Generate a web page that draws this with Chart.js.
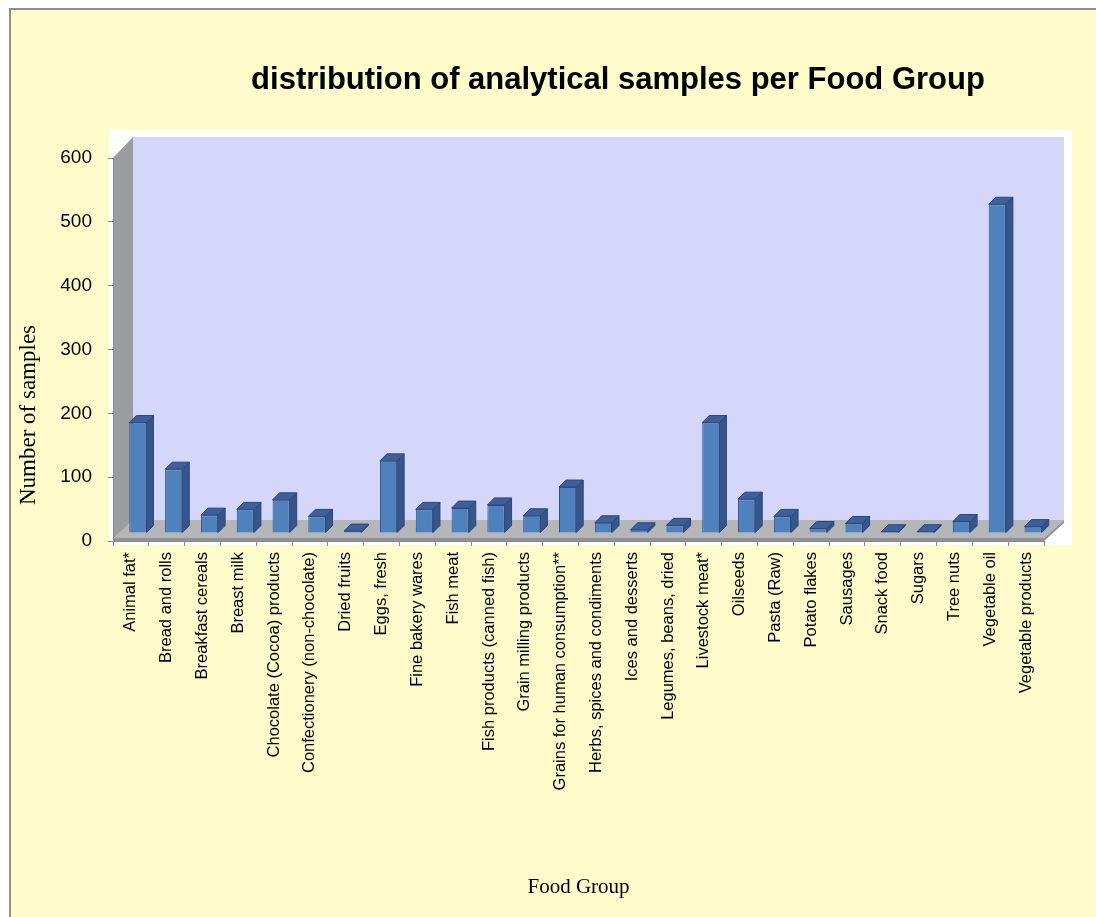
<!DOCTYPE html>
<html>
<head>
<meta charset="utf-8">
<script src="https://cdn.jsdelivr.net/npm/chart.js@4.4.0/dist/chart.umd.min.js"></script>
<style>
  body { margin: 0; background: #fff; }
  #wrap { width: 1096px; height: 917px; position: relative; }
</style>
</head>
<body>
<div id="wrap"><canvas class="js-chart" width="1096" height="917"></canvas></div>
<script>
const ctx = document.querySelector('.js-chart').getContext('2d');

const TITLE = 'distribution of analytical samples per Food Group';
const Y_TITLE = 'Number of samples';
const X_TITLE = 'Food Group';
const foodGroups = [
  'Animal fat*', 'Bread and rolls', 'Breakfast cereals', 'Breast milk',
  'Chocolate (Cocoa) products', 'Confectionery (non-chocolate)', 'Dried fruits',
  'Eggs, fresh', 'Fine bakery wares', 'Fish meat', 'Fish products (canned fish)',
  'Grain milling products', 'Grains for human consumption**', 'Herbs, spices and condiments',
  'Ices and desserts', 'Legumes, beans, dried', 'Livestock meat*', 'Oilseeds',
  'Pasta (Raw)', 'Potato flakes', 'Sausages', 'Snack food', 'Sugars', 'Tree nuts',
  'Vegetable oil', 'Vegetable products'
];
const samples = [173, 100, 28, 37, 52, 26, 3, 113, 37, 39, 44, 27, 72, 16, 5, 12, 173, 53, 26, 7, 15, 2, 2, 18, 515, 10];
const yTicks = [0, 100, 200, 300, 400, 500, 600];

// depth of the fake 3d box and of the bars
const DEPTH_X = 20, DEPTH_Y = 21;
const BAR_SHIFT_X = 7, BAR_SHIFT_Y = 8, BAR_DEPTH = 7;

const box3d = {
  id: 'box3d',
  beforeDraw(chart) {
    const c = chart.ctx;
    const a = chart.chartArea;
    c.save();
    c.fillStyle = '#ffffff';
    c.fillRect(0, 0, chart.width, chart.height);
    c.fillStyle = '#FFFCCB';
    c.fillRect(9, 8, chart.width, chart.height);
    c.strokeStyle = '#8f8f82';
    c.lineWidth = 2;
    c.strokeRect(10, 9, chart.width + 10, chart.height + 10);
    // white plot area
    c.fillStyle = '#ffffff';
    c.fillRect(a.left - 4, a.top - DEPTH_Y - 8, a.right - a.left + DEPTH_X + 12, a.bottom - a.top + DEPTH_Y + 12);
    // back wall
    c.fillStyle = '#D5D7FA';
    c.fillRect(a.left + DEPTH_X, a.top - DEPTH_Y, a.right - a.left, a.bottom - a.top);
    // side wall
    c.fillStyle = '#9a9c9f';
    c.beginPath();
    c.moveTo(a.left, a.top);
    c.lineTo(a.left + DEPTH_X, a.top - DEPTH_Y);
    c.lineTo(a.left + DEPTH_X, a.bottom - DEPTH_Y);
    c.lineTo(a.left, a.bottom);
    c.closePath();
    c.fill();
    // floor
    c.fillStyle = '#b4b6b9';
    c.beginPath();
    c.moveTo(a.left, a.bottom - 3);
    c.lineTo(a.left + DEPTH_X, a.bottom - DEPTH_Y);
    c.lineTo(a.right + DEPTH_X, a.bottom - DEPTH_Y);
    c.lineTo(a.right, a.bottom - 3);
    c.closePath();
    c.fill();
    c.fillStyle = '#909295';
    c.beginPath();
    c.moveTo(a.left, a.bottom - 3);
    c.lineTo(a.right, a.bottom - 3);
    c.lineTo(a.right + DEPTH_X, a.bottom - DEPTH_Y);
    c.lineTo(a.right + DEPTH_X, a.bottom - DEPTH_Y + 3);
    c.lineTo(a.right, a.bottom);
    c.lineTo(a.left, a.bottom);
    c.closePath();
    c.fill();
    // titles
    c.fillStyle = '#000';
    c.font = 'bold 31px "Liberation Sans"';
    c.textAlign = 'center';
    c.textBaseline = 'middle';
    c.fillText(TITLE, 618, 80);
    c.translate(29, 415);
    c.rotate(-Math.PI / 2);
    c.font = '23px "Liberation Serif"';
    c.fillText(Y_TITLE, 0, 0);
    c.restore();
  },
  beforeDatasetsDraw(chart) {
    chart.ctx.save();
    chart.ctx.translate(BAR_SHIFT_X, -BAR_SHIFT_Y);
  },
  afterDatasetsDraw(chart) {
    const c = chart.ctx;
    chart.getDatasetMeta(0).data.forEach(bar => {
      const l = bar.x - bar.width / 2, r = bar.x + bar.width / 2;
      c.fillStyle = '#36558a';
      c.strokeStyle = '#2c467a';
      c.lineWidth = 1;
      c.beginPath();
      c.moveTo(r, bar.y);
      c.lineTo(r + BAR_DEPTH, bar.y - BAR_DEPTH);
      c.lineTo(r + BAR_DEPTH, bar.base - BAR_DEPTH);
      c.lineTo(r, bar.base);
      c.closePath();
      c.fill();
      c.stroke();
      c.fillStyle = '#3d5f9c';
      c.beginPath();
      c.moveTo(l, bar.y);
      c.lineTo(l + BAR_DEPTH, bar.y - BAR_DEPTH);
      c.lineTo(r + BAR_DEPTH, bar.y - BAR_DEPTH);
      c.lineTo(r, bar.y);
      c.closePath();
      c.fill();
      c.stroke();
    });
    c.restore();
  }
};

new Chart(ctx, {
  type: 'bar',
  data: {
    labels: foodGroups,
    datasets: [{
      label: Y_TITLE,
      data: samples,
      backgroundColor: '#4F81BD',
      borderColor: '#2f4f8c',
      borderWidth: 1,
      categoryPercentage: 1,
      barPercentage: 0.48
    }]
  },
  plugins: [box3d],
  options: {
    responsive: false,
    animation: false,
    layout: { padding: { top: 158, right: 52, left: 0, bottom: 0 } },
    plugins: {
      legend: { display: false },
      title: { display: false },
      tooltip: { enabled: false }
    },
    scales: {
      x: {
        afterFit(scale) { scale.height = 376; },
        grid: { drawOnChartArea: false, drawTicks: true, tickLength: 5, color: '#8a8a8a', offset: true },
        border: { display: true, color: '#8a8a8a' },
        ticks: {
          autoSkip: false, minRotation: 90, maxRotation: 90, padding: 6,
          color: '#000', font: { family: 'Liberation Sans', size: 16.5 }
        },
        title: {
          display: true, text: X_TITLE, color: '#000',
          font: { family: 'Liberation Serif', size: 21 },
          padding: { top: 0, bottom: 17 }
        }
      },
      y: {
        min: 0, max: 600,
        afterFit(scale) { scale.width = 113; },
        afterBuildTicks(scale) { scale.ticks = yTicks.map(v => ({ value: v })); },
        grid: { drawOnChartArea: false, drawTicks: true, tickLength: 5, color: '#8a8a8a' },
        border: { display: true, color: '#8a8a8a' },
        ticks: { padding: 16, color: '#000', font: { family: 'Liberation Sans', size: 19 } }
      }
    }
  }
});
</script>
</body>
</html>
